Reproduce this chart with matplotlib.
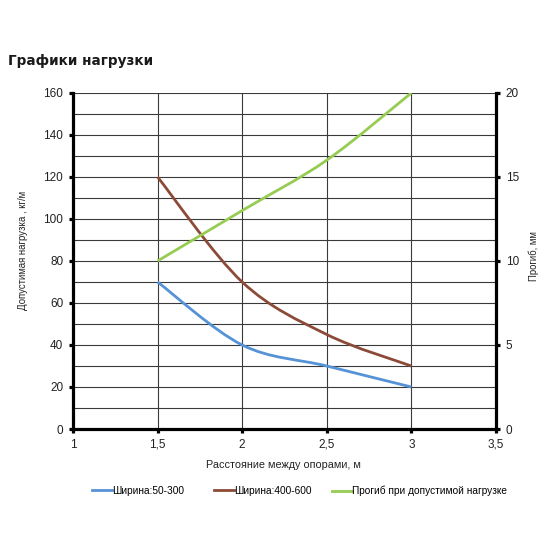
import matplotlib.pyplot as plt
from matplotlib.path import Path
from matplotlib.patches import PathPatch
from matplotlib.lines import Line2D
from matplotlib.ticker import MultipleLocator, FuncFormatter

# data
spans = [1.5, 2.0, 2.5, 3.0]
load_50_300 = [70, 40, 30, 20]
load_400_600 = [120, 70, 45, 30]
deflection = [10, 13, 16, 20]

labels = ["Ширина:50-300", "Ширина:400-600", "Прогиб при допустимой нагрузке"]
colors = ["#5592d6", "#8c4a38", "#96cc52"]

plt.rcParams['font.family'] = ['Liberation Sans', 'DejaVu Sans']


def smooth_path(xs, ys):
    """Bezier path through the points (like Excel's smoothed line)."""
    pts = list(zip(xs, ys))
    verts = [pts[0]]
    codes = [Path.MOVETO]
    n = len(pts)
    for i in range(n - 1):
        p0 = pts[max(i - 1, 0)]
        p1 = pts[i]
        p2 = pts[i + 1]
        p3 = pts[min(i + 2, n - 1)]
        c1 = (p1[0] + (p2[0] - p0[0]) / 6, p1[1] + (p2[1] - p0[1]) / 6)
        c2 = (p2[0] - (p3[0] - p1[0]) / 6, p2[1] - (p3[1] - p1[1]) / 6)
        verts += [c1, c2, p2]
        codes += [Path.CURVE4] * 3
    return Path(verts, codes)


fig = plt.figure(figsize=(5.5, 5.5), dpi=100)
ax = fig.add_axes([0.1327, 0.22, 0.769, 0.611])
ax2 = ax.twinx()

ax.set_xlim(1, 3.5)
ax.set_ylim(0, 160)
ax2.set_ylim(0, 20)

ax.xaxis.set_major_locator(MultipleLocator(0.5))
ax.yaxis.set_major_locator(MultipleLocator(20))
ax2.yaxis.set_major_locator(MultipleLocator(5))
ax.xaxis.set_major_formatter(FuncFormatter(lambda v, p: f"{v:g}".replace(".", ",")))

# grid
for y in range(10, 161, 10):
    ax.axhline(y, color="#3a3a3a", lw=0.8, zorder=1)
for x in spans:
    ax.axvline(x, color="#3a3a3a", lw=0.8, zorder=1)

ax.add_patch(PathPatch(smooth_path(spans, load_50_300), fill=False,
                       edgecolor=colors[0], lw=2.0, zorder=3, capstyle='butt'))
ax.add_patch(PathPatch(smooth_path(spans, load_400_600), fill=False,
                       edgecolor=colors[1], lw=2.0, zorder=3, capstyle='butt'))
ax2.add_patch(PathPatch(smooth_path(spans, deflection), fill=False,
                        edgecolor=colors[2], lw=2.0, zorder=3, capstyle='butt'))

for a in (ax, ax2):
    a.spines['top'].set_visible(False)
    for s in ('left', 'bottom', 'right'):
        a.spines[s].set_linewidth(2.3)
        a.spines[s].set_color("black")
ax2.spines['left'].set_visible(False)
ax2.spines['bottom'].set_visible(False)
ax.spines['right'].set_visible(False)

ax.tick_params(axis='both', which='major', length=3, width=2.3, labelsize=8.5,
               colors="black", labelcolor="#222222", pad=4)
ax2.tick_params(axis='y', length=3, width=2.3, labelsize=8.5,
                labelcolor="#222222", pad=4)

fig.text(0.516, 0.1545, "Расстояние между опорами, м", fontsize=7.8,
         color="#222222", ha='center', va='center')
fig.text(0.041, 0.544, "Допустимая нагрузка , кг/м", fontsize=6.9,
         color="#222222", ha='center', va='center', rotation=90)
fig.text(0.971, 0.534, "Прогиб, мм", fontsize=6.9,
         color="#222222", ha='center', va='center', rotation=90)

fig.text(0.015, 0.889, "Графики нагрузки", fontsize=9.8, fontweight='bold',
         family='DejaVu Sans', color="#1a1a1a", va='center')

# legend entries placed separately like the original layout
legend_x = [92, 214, 332]
for lx, c, lab in zip(legend_x, colors, labels):
    fig.legend([Line2D([], [], color=c, lw=2.0)], [lab], loc='center left',
               bbox_to_anchor=(lx / 550, 1 - 491 / 550), frameon=False,
               fontsize=7.3, handlelength=1.95, handletextpad=0.05,
               borderpad=0, borderaxespad=0)

fig.savefig("out.png", dpi=100)
